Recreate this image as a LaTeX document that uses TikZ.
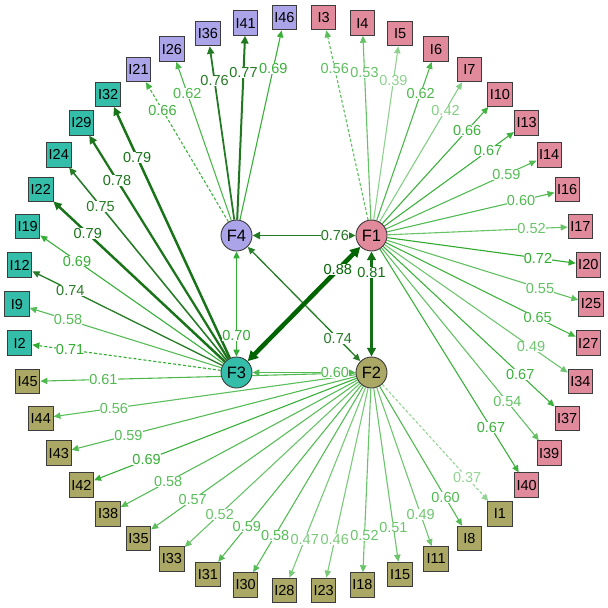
\documentclass[tikz,border=0pt]{standalone}
\usepackage{fontspec}
\setmainfont{Liberation Sans}
\usetikzlibrary{arrows.meta,backgrounds}
\definecolor{cF1}{RGB}{224,138,155}
\definecolor{cF2}{RGB}{170,168,100}
\definecolor{cF3}{RGB}{52,190,170}
\definecolor{cF4}{RGB}{172,164,232}
\definecolor{dkg}{RGB}{0,100,0}
\definecolor{ltg}{RGB}{0,153,0}
\definecolor{bord}{RGB}{60,60,60}
\colorlet{ecol}{ltg}
\newcommand\setecol[1]{%
  \pgfmathtruncatemacro\myhi{#1>0.73}%
  \pgfmathtruncatemacro\mypa{min(100,round(#1/0.88*100))}%
  \ifnum\myhi=1 \colorlet{ecol}{dkg!\mypa!white}\else\colorlet{ecol}{ltg!\mypa!white}\fi}
\tikzset{
  fac/.style={circle,draw=bord,line width=0.9pt,minimum size=31pt,inner sep=0pt,font=\fontsize{16.5}{18}\selectfont},
  ind/.style={rectangle,draw=bord,line width=0.9pt,minimum size=24.5pt,inner sep=0pt,font=\fontsize{14.5}{16}\selectfont},
  lbl/.style={fill=white,inner sep=0.3pt,text=ecol,font=\fontsize{14.5}{16}\selectfont,pos=0.8},
  sol/.style={-{Triangle[length=6pt 0.9,width=5pt 1.2]}},
  dsh/.style={sol,dash pattern=on 3pt off 2pt},
  two/.style={{Triangle[length=6pt 0.9,width=5pt 1.2]}-{Triangle[length=6pt 0.9,width=5pt 1.2]}},
}
\def\edgelist{%
F1/I3/0.56/dsh, F1/I4/0.53/sol, F1/I5/0.39/sol, F1/I6/0.62/sol, F1/I7/0.42/sol,
F1/I10/0.66/sol, F1/I13/0.67/sol, F1/I14/0.59/sol, F1/I16/0.60/sol, F1/I17/0.52/sol,
F1/I20/0.72/sol, F1/I25/0.55/sol, F1/I27/0.65/sol, F1/I34/0.49/sol, F1/I37/0.67/sol,
F1/I39/0.54/sol, F1/I40/0.67/sol,
F2/I1/0.37/dsh, F2/I8/0.60/sol, F2/I11/0.49/sol, F2/I15/0.51/sol, F2/I18/0.52/sol,
F2/I23/0.46/sol, F2/I28/0.47/sol, F2/I30/0.58/sol, F2/I31/0.59/sol, F2/I33/0.52/sol,
F2/I35/0.57/sol, F2/I38/0.58/sol, F2/I42/0.69/sol, F2/I43/0.59/sol, F2/I44/0.56/sol,
F2/I45/0.61/sol,
F3/I2/0.71/dsh, F3/I9/0.58/sol, F3/I12/0.74/sol, F3/I19/0.69/sol, F3/I22/0.79/sol,
F3/I24/0.75/sol, F3/I29/0.78/sol, F3/I32/0.79/sol,
F4/I21/0.66/dsh, F4/I26/0.62/sol, F4/I36/0.76/sol, F4/I41/0.77/sol, F4/I46/0.69/sol,
F3/F2/0.60/two, F4/F3/0.70/two, F4/F2/0.74/two, F4/F1/0.76/two, F2/F1/0.81/two, F3/F1/0.88/two}
\begin{document}
\begin{tikzpicture}[x=1pt,y=-1pt]
\useasboundingbox (0,0) rectangle (608,608);
\node[fac,fill=cF1] (F1) at (371.5,235.5) {F1};
\node[fac,fill=cF2] (F2) at (371.5,372.5) {F2};
\node[fac,fill=cF3] (F3) at (236.5,372.5) {F3};
\node[fac,fill=cF4] (F4) at (236.5,235.5) {F4};
\foreach \nm/\k/\c in {I3/0/cF1, I4/1/cF1, I5/2/cF1, I6/3/cF1, I7/4/cF1, I10/5/cF1,
  I13/6/cF1, I14/7/cF1, I16/8/cF1, I17/9/cF1, I20/10/cF1, I25/11/cF1, I27/12/cF1,
  I34/13/cF1, I37/14/cF1, I39/15/cF1, I40/16/cF1,
  I1/17/cF2, I8/18/cF2, I11/19/cF2, I15/20/cF2, I18/21/cF2, I23/22/cF2, I28/23/cF2,
  I30/24/cF2, I31/25/cF2, I33/26/cF2, I35/27/cF2, I38/28/cF2, I42/29/cF2, I43/30/cF2,
  I44/31/cF2, I45/32/cF2,
  I2/33/cF3, I9/34/cF3, I12/35/cF3, I19/36/cF3, I22/37/cF3, I24/38/cF3, I29/39/cF3, I32/40/cF3,
  I21/41/cF4, I26/42/cF4, I36/43/cF4, I41/44/cF4, I46/45/cF4}
  \node[ind,fill=\c] (\nm) at ({304+287*sin(3.913+7.826*\k)},{304-287*cos(3.913+7.826*\k)}) {\nm};
\begin{pgfonlayer}{background}
\foreach \f/\t/\v/\s in \edgelist {
  \setecol{\v}
  \pgfmathsetmacro\mylw{\v>0.73 ? 1.1+(\v-0.73)/0.15*3.4 : 1.1}
  \draw[\s,line width=\mylw pt,color=ecol] (\f) -- (\t);
}
\foreach \f/\t/\v/\s in \edgelist {
  \setecol{\v}
  \path (\f) -- node[lbl]{\v} (\t);
}
\end{pgfonlayer}
\end{tikzpicture}
\end{document}
